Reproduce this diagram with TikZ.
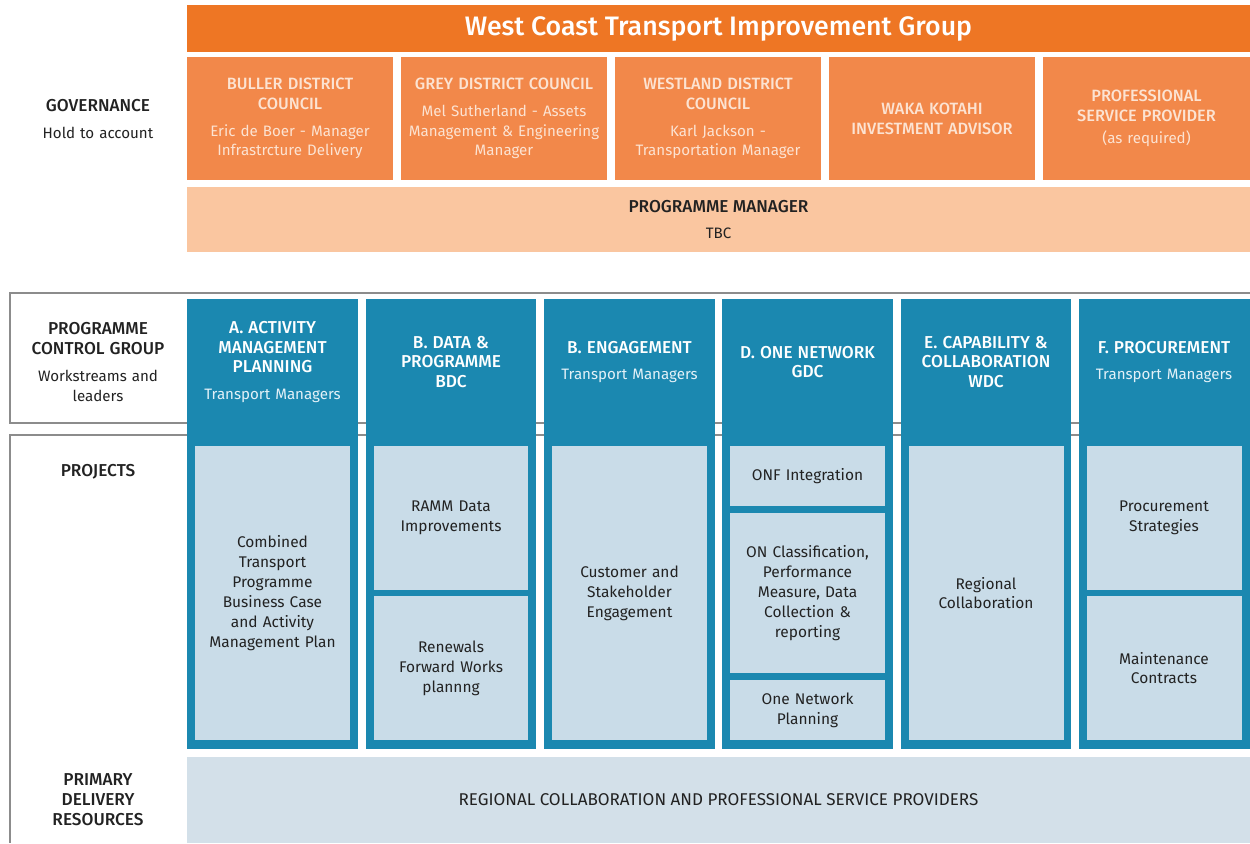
\documentclass[tikz,border=0pt]{standalone}
\usepackage{fontspec}
\setmainfont{Fira Sans}[BoldFont={Fira Sans Medium}]
\usetikzlibrary{positioning}
\definecolor{og}{HTML}{EE7624}
\definecolor{ob}{HTML}{F2884A}
\definecolor{pm}{HTML}{FAC6A0}
\definecolor{tl}{HTML}{1B88B0}
\definecolor{lb}{HTML}{C9DCE8}
\definecolor{rs}{HTML}{D3E0E9}
\definecolor{tx}{HTML}{222222}
\definecolor{fr}{HTML}{8C8C8C}
\definecolor{pale}{HTML}{FCE3D2}
\definecolor{tsub}{HTML}{E3F1F8}
\newcommand{\capsb}[1]{{\fontsize{9.8}{11.3}\selectfont\bfseries #1}}
\newcommand{\capsg}[1]{{\fontsize{9.3}{11.3}\selectfont\bfseries #1}}
\tikzset{
  banner/.style={
    rectangle, draw=none, fill=og, text=white,
    font=\fontsize{15.2}{17}\selectfont\bfseries,
    minimum width=21.26cm, minimum height=0.94cm, inner sep=0pt
  },
  gbox/.style={
    rectangle, draw=none, fill=ob, text=pale,
    font=\fontsize{8.6}{11.3}\selectfont,
    minimum width=4.12cm, minimum height=2.46cm, text width=4cm,
    align=center, inner sep=0pt
  },
  pmbar/.style={
    rectangle, draw=none, fill=pm, text=tx,
    font=\fontsize{8.6}{11.3}\selectfont,
    minimum width=21.26cm, minimum height=1.3cm,
    align=center, inner sep=0pt
  },
  col/.style={
    rectangle, draw=none, fill=tl,
    minimum width=3.42cm, minimum height=9cm, inner sep=0pt
  },
  head/.style={
    text=white, font=\fontsize{8.6}{11.3}\selectfont,
    text width=3.35cm, align=center, inner sep=0pt
  },
  pbox/.style={
    rectangle, draw=none, fill=lb, text=tx,
    font=\fontsize{8.8}{11.3}\selectfont,
    minimum width=3.1cm, text width=3.05cm, align=center, inner sep=0pt
  },
  rbar/.style={
    rectangle, draw=none, fill=rs, text=tx,
    font=\fontsize{9.7}{11.3}\selectfont,
    minimum width=21.26cm, minimum height=1.72cm, inner sep=0pt
  },
  lbl/.style={
    text=tx, font=\fontsize{8.6}{11.3}\selectfont,
    text width=3.3cm, align=center, inner sep=0pt
  },
  frame/.style={draw=fr, line width=0.6pt}
}

\begin{document}
\begin{tikzpicture}[x=0.02cm, y=-0.02cm]

\fill[white] (0,0) rectangle (1250,843);
\useasboundingbox (0,0) rectangle (1250,843);

\draw[frame] (1250,293) -- (10,293) -- (10,423) -- (1250,423);
\draw[frame] (1250,435) -- (10,435) -- (10,843);

\node[banner] (wctig) at (718.5,28.5) {West Coast Transport Improvement Group};

\node[gbox] (buller) at (290,118.5)
  {\capsg{BULLER DISTRICT\\COUNCIL}\\[4pt]Eric de Boer - Manager\\Infrastrcture Delivery};
\node[gbox] (grey) at (504,118.5)
  {\capsg{GREY DISTRICT COUNCIL}\\[4pt]Mel Sutherland - Assets\\Management \& Engineering\\Manager};
\node[gbox] (westland) at (718,118.5)
  {\capsg{WESTLAND DISTRICT\\COUNCIL}\\[4pt]Karl Jackson -\\Transportation Manager};
\node[gbox] (waka) at (932,118.5)
  {\capsg{WAKA KOTAHI\\INVESTMENT ADVISOR}};
\node[gbox, minimum width=4.14cm] (psp) at (1146.5,118.5)
  {\capsg{PROFESSIONAL\\SERVICE PROVIDER}\\[1pt](as required)};

\node[pmbar] (pmgr) at (718.5,219.5) {\capsb{PROGRAMME MANAGER}\\[4pt]TBC};

\node[lbl] (gov) at (98,119) {\capsb{GOVERNANCE}\\[4pt]Hold to account};
\node[lbl] (pcg) at (98,362) {\capsb{PROGRAMME\\CONTROL GROUP}\\[4pt]Workstreams and\\leaders};
\node[lbl] (proj) at (98,472) {\capsb{PROJECTS}};
\node[lbl] (pdr) at (98,800) {\capsb{PRIMARY\\DELIVERY\\RESOURCES}};

\node[col] (acol) at (272.5,524) {};
\node[col] (bcol) at (451,524) {};
\node[col] (ccol) at (629.5,524) {};
\node[col] (dcol) at (807.5,524) {};
\node[col] (ecol) at (986,524) {};
\node[col] (fcol) at (1164,524) {};

\node[head] (ahead) at (272.5,362)
  {\capsb{A. ACTIVITY\\MANAGEMENT\\PLANNING}\\[4pt]{\color{tsub}Transport Managers}};
\node[head] (bhead) at (451,362) {\capsb{B. DATA \&\\PROGRAMME\\BDC}};
\node[head] (chead) at (629.5,362)
  {\capsb{B. ENGAGEMENT}\\[4pt]{\color{tsub}Transport Managers}};
\node[head] (dhead) at (807.5,362) {\capsb{D. ONE NETWORK\\GDC}};
\node[head] (ehead) at (986,362) {\capsb{E. CAPABILITY \&\\COLLABORATION\\WDC}};
\node[head] (fhead) at (1164,362)
  {\capsb{F. PROCUREMENT}\\[4pt]{\color{tsub}Transport Managers}};

\node[pbox, minimum height=5.88cm] (ctp) at (272.5,593)
  {Combined\\Transport\\Programme\\Business Case\\and Activity\\Management Plan};
\node[pbox, minimum height=2.88cm] (ramm) at (451,518) {RAMM Data\\Improvements};
\node[pbox, minimum height=2.88cm] (renew) at (451,668) {Renewals\\Forward Works\\plannng};
\node[pbox, minimum height=5.88cm] (cse) at (629.5,593) {Customer and\\Stakeholder\\Engagement};
\node[pbox, minimum height=1.2cm] (onf) at (807.5,476) {ONF Integration};
\node[pbox, minimum height=3.2cm] (oncl) at (807.5,593)
  {ON Classification,\\Performance\\Measure, Data\\Collection \&\\reporting};
\node[pbox, minimum height=1.2cm] (onp) at (807.5,710) {One Network\\Planning};
\node[pbox, minimum height=5.88cm] (regc) at (986,593) {Regional\\Collaboration};
\node[pbox, minimum height=2.88cm] (pstr) at (1164,518) {Procurement\\Strategies};
\node[pbox, minimum height=2.88cm] (mcon) at (1164,668) {Maintenance\\Contracts};

\node[rbar] (rcps) at (718.5,800) {REGIONAL COLLABORATION AND PROFESSIONAL SERVICE PROVIDERS};

\end{tikzpicture}
\end{document}
